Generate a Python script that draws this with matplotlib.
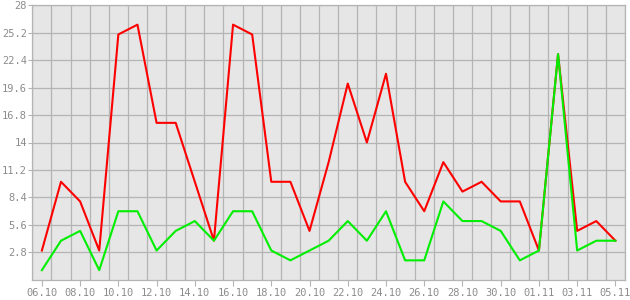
import numpy as np
import matplotlib
matplotlib.use('Agg')
import matplotlib.pyplot as plt

# days 06.10 .. 05.11
days = ['06.10', '07.10', '08.10', '09.10', '10.10', '11.10', '12.10', '13.10',
        '14.10', '15.10', '16.10', '17.10', '18.10', '19.10', '20.10', '21.10',
        '22.10', '23.10', '24.10', '25.10', '26.10', '27.10', '28.10', '29.10',
        '30.10', '31.10', '01.11', '02.11', '03.11', '04.11', '05.11']
red_vals = [3, 10, 8, 3, 25, 26, 16, 16, 10, 4, 26, 25, 10, 10, 5, 12,
            20, 14, 21, 10, 7, 12, 9, 10, 8, 8, 3, 23, 5, 6, 4]
green_vals = [1, 4, 5, 1, 7, 7, 3, 5, 6, 4, 7, 7, 3, 2, 3, 4,
              6, 4, 7, 2, 2, 8, 6, 6, 5, 2, 3, 23, 3, 4, 4]
y_ticks = [2.8, 5.6, 8.4, 11.2, 14, 16.8, 19.6, 22.4, 25.2, 28]
y_labels = ['2.8', '5.6', '8.4', '11.2', '14', '16.8', '19.6', '22.4', '25.2', '28']

grid_col = '#b4b4b4'
text_col = '#8c8c8c'

fig = plt.figure(figsize=(6.3, 3.0), dpi=100)
ax = fig.add_axes([0.0513, 0.0667, 0.9407, 0.9166])
ax.set_facecolor('#e6e6e6')

x = np.arange(len(days))
ax.plot(x, red_vals, color='#ff0000', lw=1.5, zorder=3)
ax.plot(x, green_vals, color='#00ee00', lw=1.5, zorder=4)

ax.set_xlim(-0.5, len(days) - 0.5)
ax.set_ylim(0, 28)

# vertical grid between the days, horizontal grid on the y ticks
ax.set_xticks(np.arange(-0.5, len(days), 1.0), minor=True)
ax.grid(True, which='minor', axis='x', color=grid_col, lw=0.9)
ax.set_xticks(x[::2])
ax.set_xticklabels(days[::2])
ax.set_yticks(y_ticks)
ax.set_yticklabels(y_labels)
ax.grid(True, which='major', axis='y', color=grid_col, lw=0.9)
ax.set_axisbelow(True)

ax.tick_params(axis='x', which='minor', length=0)
ax.tick_params(axis='x', which='major', length=4, color=grid_col, labelcolor=text_col,
               labelsize=7.5, pad=2)
ax.tick_params(axis='y', length=3, color=grid_col, labelcolor=text_col, labelsize=7.5, pad=1)
for lab in ax.get_xticklabels() + ax.get_yticklabels():
    lab.set_family('DejaVu Sans Mono')

for s in ax.spines.values():
    s.set_color(grid_col)
    s.set_linewidth(0.9)

fig.savefig('out.png', dpi=100)
